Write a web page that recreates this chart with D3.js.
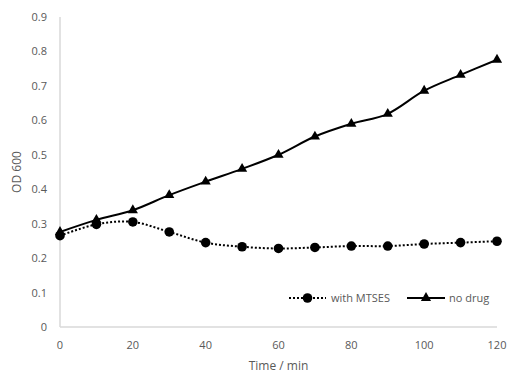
<!DOCTYPE html>
<html>
<head>
<meta charset="utf-8">
<script src="https://cdn.jsdelivr.net/npm/d3@7"></script>
<style>
  body { margin: 0; background: #fff; }
  text { font-family: "Open Sans", "Liberation Sans", sans-serif; fill: #595959; }
</style>
</head>
<body>
<div id="chart"></div>
<script>
(function(){
  const times = [0, 10, 20, 30, 40, 50, 60, 70, 80, 90, 100, 110, 120];
  const withMtses = [0.265, 0.298, 0.305, 0.276, 0.245, 0.233, 0.228, 0.231, 0.235, 0.235, 0.241, 0.245, 0.249];
  const noDrug = [0.276, 0.311, 0.339, 0.383, 0.422, 0.459, 0.5, 0.553, 0.59, 0.619, 0.686, 0.732, 0.776];
  const xTicks = [0, 20, 40, 60, 80, 100, 120];
  const yTicks = [0, 0.1, 0.2, 0.3, 0.4, 0.5, 0.6, 0.7, 0.8, 0.9];

  const width = 509;
  const height = 375;
  const margin = { top: 17, right: 12, bottom: 48, left: 60 };

  const svg = d3.select("#chart")
    .append("svg")
    .attr("width", width)
    .attr("height", height);

  const x = d3.scaleLinear().domain([0, 120]).range([margin.left, width - margin.right]);
  const y = d3.scaleLinear().domain([0, 0.9]).range([height - margin.bottom, margin.top]);

  // axes lines
  svg.append("line")
    .attr("x1", x(0)).attr("x2", x(0))
    .attr("y1", y(0.9)).attr("y2", y(0))
    .attr("stroke", "#d9d9d9").attr("stroke-width", 1.5);
  svg.append("line")
    .attr("x1", x(0)).attr("x2", x(120))
    .attr("y1", y(0)).attr("y2", y(0))
    .attr("stroke", "#d9d9d9").attr("stroke-width", 1.5);

  // tick labels
  svg.append("g").selectAll("text")
    .data(yTicks)
    .enter().append("text")
    .attr("x", x(0) - 13)
    .attr("y", d => y(d) + 4)
    .attr("text-anchor", "end")
    .style("font-size", "11px")
    .text(d => d === 0 ? "0" : d3.format(".1f")(d));

  svg.append("g").selectAll("text")
    .data(xTicks)
    .enter().append("text")
    .attr("x", d => x(d))
    .attr("y", y(0) + 22)
    .attr("text-anchor", "middle")
    .style("font-size", "11px")
    .text(d => d);

  // axis titles
  svg.append("text")
    .attr("x", (x(0) + x(120)) / 2)
    .attr("y", 370)
    .attr("text-anchor", "middle")
    .style("font-size", "12px")
    .text("Time / min");

  svg.append("text")
    .attr("transform", `translate(21,${(y(0) + y(0.9)) / 2}) rotate(-90)`)
    .attr("text-anchor", "middle")
    .style("font-size", "12px")
    .text("OD 600");

  const line = d3.line()
    .x(d => x(d[0]))
    .y(d => y(d[1]))
    .curve(d3.curveCatmullRom.alpha(0));

  const mtsesPts = times.map((t, i) => [t, withMtses[i]]);
  const noDrugPts = times.map((t, i) => [t, noDrug[i]]);

  svg.append("path")
    .datum(mtsesPts)
    .attr("d", line)
    .attr("fill", "none")
    .attr("stroke", "#000")
    .attr("stroke-width", 2)
    .attr("stroke-dasharray", "2,2");

  svg.append("path")
    .datum(noDrugPts)
    .attr("d", line)
    .attr("fill", "none")
    .attr("stroke", "#000")
    .attr("stroke-width", 2);

  const tri = d3.symbol().type(d3.symbolTriangle).size(45);

  svg.append("g").selectAll("path")
    .data(noDrugPts)
    .enter().append("path")
    .attr("d", tri)
    .attr("transform", d => `translate(${x(d[0])},${y(d[1])})`)
    .attr("fill", "#000");

  svg.append("g").selectAll("circle")
    .data(mtsesPts)
    .enter().append("circle")
    .attr("cx", d => x(d[0]))
    .attr("cy", d => y(d[1]))
    .attr("r", 4.8)
    .attr("fill", "#000");

  // legend
  const ly = 298;
  const legend = svg.append("g");
  legend.append("line")
    .attr("x1", 289).attr("x2", 326)
    .attr("y1", ly).attr("y2", ly)
    .attr("stroke", "#000").attr("stroke-width", 2)
    .attr("stroke-dasharray", "2,2");
  legend.append("circle")
    .attr("cx", 307.5).attr("cy", ly).attr("r", 4.8).attr("fill", "#000");
  legend.append("text")
    .attr("x", 331).attr("y", ly + 4)
    .style("font-size", "11px")
    .text("with MTSES");

  legend.append("line")
    .attr("x1", 407).attr("x2", 445)
    .attr("y1", ly).attr("y2", ly)
    .attr("stroke", "#000").attr("stroke-width", 2);
  legend.append("path")
    .attr("d", tri)
    .attr("transform", `translate(426,${ly})`)
    .attr("fill", "#000");
  legend.append("text")
    .attr("x", 449).attr("y", ly + 4)
    .style("font-size", "11px")
    .text("no drug");
})();
</script>
</body>
</html>
